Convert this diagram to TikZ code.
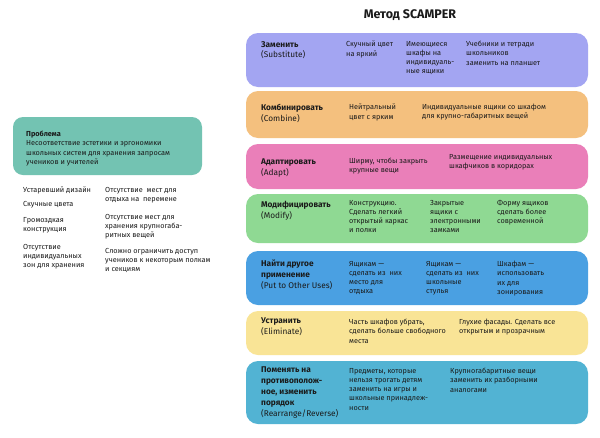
\documentclass[tikz,border=0pt]{standalone}
\usepackage{fontspec}
\setmainfont{Fira Sans}
\definecolor{cSub}{HTML}{A3A5F2}
\definecolor{cCom}{HTML}{F4C07E}
\definecolor{cAda}{HTML}{EA7FB9}
\definecolor{cMod}{HTML}{8FD993}
\definecolor{cPut}{HTML}{4AA0E2}
\definecolor{cEli}{HTML}{F9E496}
\definecolor{cRea}{HTML}{52B3D3}
\definecolor{cPro}{HTML}{73C3B2}
\definecolor{ink}{HTML}{1A1A1A}
\tikzset{
  band/.style={rounded corners=12pt, draw=none},
  body/.style={anchor=north west, inner sep=0pt, align=left, text=ink,
    font=\fontsize{7.3}{9.2}\selectfont},
  head/.style={anchor=north west, inner sep=0pt, align=left, text=ink,
    font=\fontsize{8.3}{10.8}\selectfont},
}
\begin{document}
\begin{tikzpicture}[x=1pt,y=-1pt]
\useasboundingbox (0,0) rectangle (600,437);
\fill[white] (0,0) rectangle (600,437);
% title
\node[text=ink, font=\fontsize{12.5}{14}\selectfont\bfseries] (title) at (410,15) {Метод SCAMPER};
% bands
\fill[band, cSub] (246,33) rectangle (588,87);
\fill[band, cCom] (246,91) rectangle (588,138);
\fill[band, cAda] (246,144) rectangle (588,189);
\fill[band, cMod] (246,194) rectangle (588,243);
\fill[band, cPut] (246,251) rectangle (588,305);
\fill[band, cEli] (246,311) rectangle (588,355);
\fill[band, cRea] (246,361) rectangle (588,424);
\fill[band, rounded corners=10pt, cPro] (13,117) rectangle (202,175);
% band 1
\node[head] (s1) at (261,41) {\textbf{Заменить}\\(Substitute)};
\node[body] (s2) at (346,41) {Скучный цвет\\на яркий};
\node[body] (s3) at (406,41) {Имеющиеся\\шкафы на\\индивидуаль-\\ные ящики};
\node[body] (s4) at (466,41) {Учебники и тетради\\школьников\\заменить на планшет};
% band 2
\node[head] (c1) at (261,104) {\textbf{Комбинировать}\\(Combine)};
\node[body] (c2) at (349,104) {Нейтральный\\цвет с ярким};
\node[body] (c3) at (422,104) {Индивидуальные ящики со шкафом\\для крупно-габаритных вещей};
% band 3
\node[head] (a1) at (261,159) {\textbf{Адаптировать}\\(Adapt)};
\node[body] (a2) at (349,158) {Ширму, чтобы закрыть\\крупные вещи};
\node[body] (a3) at (449,154) {Размещение индивидуальных\\шкафчиков в коридорах};
% band 4
\node[head] (m1) at (261,201) {\textbf{Модифицировать}\\(Modify)};
\node[body] (m2) at (349,200) {Конструкцию.\\Сделать легкий\\открытый каркас\\и полки};
\node[body] (m3) at (430,200) {Закрытые\\ящики с\\электронными\\замками};
\node[body] (m4) at (497,200) {Форму ящиков\\сделать более\\современной};
% band 5
\node[head] (p1) at (261,260) {\textbf{Найти другое}\\\textbf{применение}\\(Put to Other Uses)};
\node[body] (p2) at (349,261) {Ящикам —\\сделать из\ \ них\\место для\\отдыха};
\node[body] (p3) at (426,261) {Ящикам —\\сделать из\ \ них\\школьные\\стулья};
\node[body] (p4) at (497,261) {Шкафам —\\использовать\\их для\\зонирования};
% band 6
\node[head] (e1) at (261,318) {\textbf{Устранить}\\(Eliminate)};
\node[body] (e2) at (349,319) {Часть шкафов убрать,\\сделать больше свободного\\места};
\node[body] (e3) at (459,319) {Глухие фасады. Сделать все\\открытым и прозрачным};
% band 7
\node[head] (r1) at (261,367) {\textbf{Поменять на}\\\textbf{противополож-}\\\textbf{ное, изменить}\\\textbf{порядок}\\(Rearrange/Reverse)};
\node[body] (r2) at (349,368) {Предметы, которые\\нельзя трогать детям\\заменить на игры и\\школьные принадлеж-\\ности};
\node[body] (r3) at (450,368) {Крупногабаритные вещи\\заменить их разборными\\аналогами};
% problem
\node[body] (pr) at (26,131) {\textbf{Проблема}\\Несоответствие эстетики и эргономики\\школьных систем для хранения запросам\\учеников и учителей};
% left lists
\node[body] (l1) at (23,187) {Устаревший дизайн};
\node[body] (l2) at (23,201) {Скучные цвета};
\node[body] (l3) at (23,217) {Громоздкая\\конструкция};
\node[body] (l4) at (23,244) {Отсутствие\\индивидуальных\\зон для хранения};
\node[body] (q1) at (105,187) {Отсутствие\ \ мест для\\отдыха на\ \ перемене};
\node[body] (q2) at (105,214) {Отсутствие мест для\\хранения крупногаба-\\ритных вещей};
\node[body] (q3) at (105,248) {Сложно ограничить доступ\\учеников к некоторым полкам\\и секциям};
\end{tikzpicture}
\end{document}
